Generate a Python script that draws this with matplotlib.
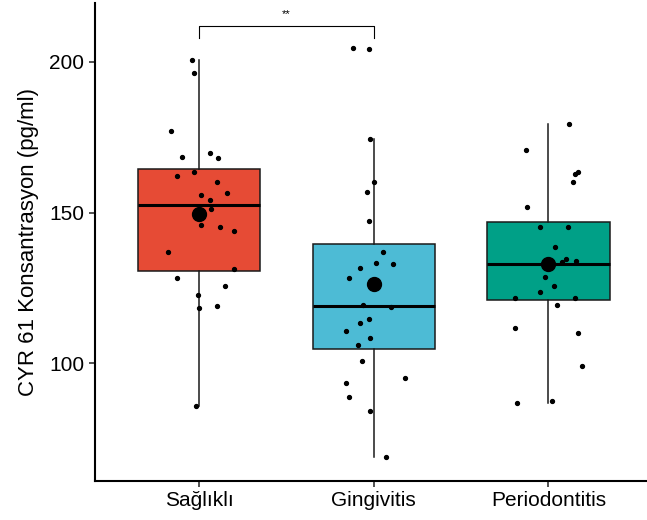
# CYR 61 box plot with jittered points

import numpy as np
import matplotlib.pyplot as plt

plt.rcParams['font.family'] = ['Liberation Sans', 'DejaVu Sans']

groups = ['Sağlıklı', 'Gingivitis', 'Periodontitis']
colors = ['#E64B35', '#4DBBD5', '#00A087']

# values
saglikli = [200.6, 196.4, 177.2, 168.3, 169.9, 168.1, 163.3, 162.0, 160.2, 155.8,
            156.6, 154.1, 151.2, 145.9, 145.2, 143.9, 137.0, 131.3, 128.2, 125.7,
            122.7, 119.0, 118.5, 85.8]
gingivitis = [204.7, 204.2, 174.3, 160.2, 156.9, 147.1, 137.0, 133.3, 132.8, 131.5,
              128.4, 119.4, 118.6, 114.8, 113.5, 110.7, 108.5, 106.0, 100.8, 95.1,
              93.4, 88.9, 84.2, 68.8]
periodontitis = [179.5, 170.9, 163.5, 162.9, 160.3, 151.9, 145.3, 145.2, 138.6, 134.5,
                 134.1, 133.6, 132.0, 128.7, 125.7, 123.8, 121.6, 121.7, 119.2, 111.6,
                 110.2, 99.0, 86.9, 87.6]

# horizontal jitter of each point (category units)
jit_saglikli = [-0.04, -0.03, -0.16, -0.10, 0.06, 0.11, -0.03, -0.13, 0.10, 0.01,
                0.16, 0.06, 0.07, 0.01, 0.12, 0.20, -0.18, 0.20, -0.13, 0.15,
                -0.01, 0.10, 0.00, -0.02]
jit_gingivitis = [-0.12, -0.03, -0.02, 0.00, -0.04, -0.03, 0.05, 0.01, 0.11, -0.08,
                  -0.14, -0.06, 0.10, -0.03, -0.08, -0.16, -0.02, -0.09, -0.07, 0.18,
                  -0.16, -0.14, -0.02, 0.07]
jit_periodontitis = [0.12, -0.13, 0.17, 0.15, 0.14, -0.12, -0.05, 0.11, 0.04, 0.10,
                     0.16, 0.08, -0.01, -0.02, 0.03, -0.05, -0.19, 0.15, 0.05, -0.19,
                     0.17, 0.19, -0.18, 0.02]

data = [saglikli, gingivitis, periodontitis]
jitter = [jit_saglikli, jit_gingivitis, jit_periodontitis]

fig = plt.figure(figsize=(6.47, 5.2), dpi=100)
ax = fig.add_axes([94.5 / 647, 39 / 520, 558.7 / 647, 478 / 520])

pos = [1, 2, 3]
bp = ax.boxplot(data, positions=pos, widths=0.7, patch_artist=True,
                showfliers=False, showcaps=False,
                boxprops=dict(edgecolor='#1a1a1a', linewidth=1.1),
                medianprops=dict(color='black', linewidth=2.2),
                whiskerprops=dict(color='#1a1a1a', linewidth=1.1))
for patch, c in zip(bp['boxes'], colors):
    patch.set_facecolor(c)

for i, (vals, jit) in enumerate(zip(data, jitter)):
    x = np.array(jit) + pos[i]
    ax.plot(x, vals, 'o', color='black', markersize=2.8, zorder=4)
    ax.plot(pos[i], np.mean(vals), 'o', color='black', markersize=10, zorder=5)

# significance bracket
ax.plot([1, 1, 2, 2], [207.9, 211.8, 211.8, 207.9], color='black', linewidth=0.8,
        clip_on=False)
ax.text(1.5, 214.3, '**', ha='center', va='bottom', fontsize=8)

ax.set_xlim(0.4, 3.6)
ax.set_ylim(61, 219.5)
ax.set_xticks(pos)
ax.set_xticklabels(groups)
ax.set_yticks([100, 150, 200])
ax.set_ylabel('CYR 61 Konsantrasyon (pg/ml)', fontsize=16, labelpad=7)
ax.tick_params(labelsize=15, length=4, width=1.2, color='#333333')

for s in ['top', 'right']:
    ax.spines[s].set_visible(False)
for s in ['left', 'bottom']:
    ax.spines[s].set_linewidth(1.5)

plt.savefig('out.png', dpi=100)
